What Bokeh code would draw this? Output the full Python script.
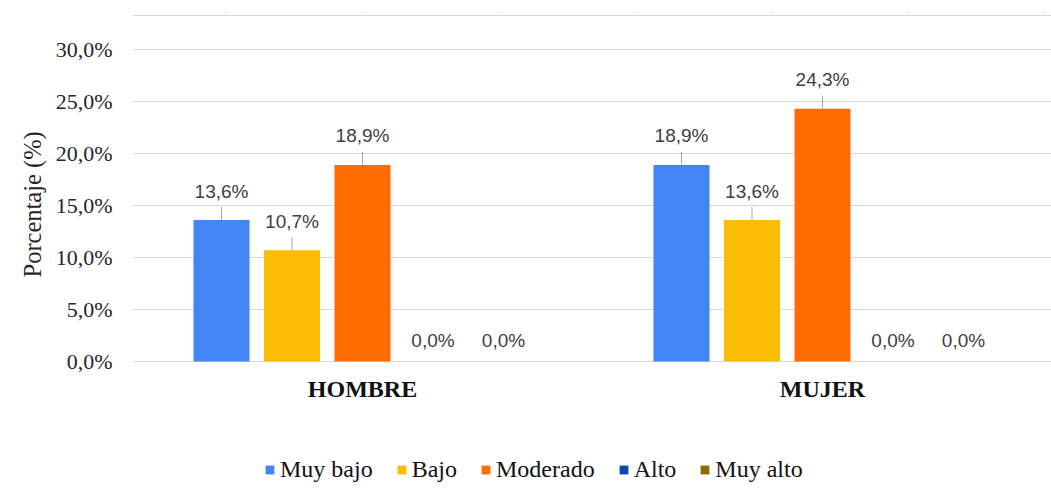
import numpy as np
from bokeh.plotting import figure
from bokeh.models import (ColumnDataSource, Range1d, FixedTicker, Legend,
                          LegendItem, Grid, Title)
from bokeh.core.properties import value
from bokeh.embed import file_html
from bokeh.resources import INLINE

# ---------------- data ----------------
categories = ["HOMBRE", "MUJER"]
series_names = ["Muy bajo", "Bajo", "Moderado", "Alto", "Muy alto"]
muy_bajo = [13.6, 18.9]
bajo = [10.7, 13.6]
moderado = [18.9, 24.3]
alto = [0.0, 0.0]
muy_alto = [0.0, 0.0]
series_values = [muy_bajo, bajo, moderado, alto, muy_alto]
colors = ["#4285F4", "#FBBC04", "#FF6D01", "#0E49AD", "#8F6A00"]
y_ticks = [0, 5, 10, 15, 20, 25, 30]
y_tick_labels = ["0,0%", "5,0%", "10,0%", "15,0%", "20,0%", "25,0%", "30,0%"]
y_title = "Porcentaje (%)"

# ---------------- styling ----------------
SERIF = "Liberation Serif"
SANS = "Liberation Sans"
W, H = 1051, 495
LEFT, TOP = 132, 10
UNIT_PX = 460.0                 # pixels per category
PX_PER_PCT = 10.4               # pixels per percentage point
ZERO_Y = 361                    # pixel row of 0 %
RULE_Y_PX = 15                  # pixel row of the thin top rule
FRAME_W = W - LEFT
BAR_W = 56.0 / UNIT_PX
STEP = 70.5 / UNIT_PX
GRID_COLOR = "#d9d9d9"

y_end = (ZERO_Y - TOP) / PX_PER_PCT
y_start = -(H - ZERO_Y) / PX_PER_PCT
rule_y = (ZERO_Y - RULE_Y_PX) / PX_PER_PCT
x_start = -0.5

p = figure(width=W, height=H,
           x_range=Range1d(x_start, x_start + FRAME_W / UNIT_PX),
           y_range=Range1d(y_start, y_end),
           x_axis_location=None,
           toolbar_location=None, output_backend="svg",
           min_border_left=LEFT, min_border_right=0, min_border_top=TOP,
           min_border_bottom=0, outline_line_color=None)
p.background_fill_color = "white"
p.border_fill_color = "white"

# grid
p.xgrid.visible = False
p.ygrid.ticker = FixedTicker(ticks=y_ticks)
p.ygrid.grid_line_color = GRID_COLOR

# thin rule near the top, with faint ticks
p.add_layout(Grid(dimension=1, ticker=FixedTicker(ticks=[rule_y]),
                  grid_line_color=GRID_COLOR))
if "cross_bounds" in Grid.properties():
    rule_tick_x = [(89 + 136.3 * k - (LEFT + UNIT_PX / 2)) / UNIT_PX for k in range(1, 8)]
    p.add_layout(Grid(dimension=0, ticker=FixedTicker(ticks=rule_tick_x),
                      cross_bounds=(rule_y, rule_y + 4 / PX_PER_PCT),
                      grid_line_color="#e2e2e2"))

# y axis
ya = p.yaxis[0]
ya.ticker = FixedTicker(ticks=y_ticks)
ya.major_label_overrides = dict(zip(y_ticks, y_tick_labels))
ya.axis_line_color = None
ya.major_tick_line_color = None
ya.minor_tick_line_color = None
ya.major_tick_out = 0
ya.major_label_standoff = 20
ya.major_label_text_font = SERIF
ya.major_label_text_font_size = "22px"
ya.major_label_text_color = "#262626"

p.add_layout(Title(text=y_title, align="left", offset=H - 277,
                   vertical_align="middle", standoff=12,
                   text_font=SERIF, text_font_style="normal",
                   text_font_size="24.5px", text_color="#262626"), "left")

# category labels under each group
cat_idx = list(range(len(categories)))
cat_src = ColumnDataSource(dict(x=cat_idx, y=[0] * len(cat_idx), name=categories))
p.text(x="x", y="y", text="name", source=cat_src, y_offset=27,
       text_align="center", text_baseline="middle", text_font=value(SERIF),
       text_font_style="bold", text_font_size="24px", text_color="#111111")

# bars, leader lines and value labels
items = []
n = len(series_names)
for i, (name, vals, col) in enumerate(zip(series_names, series_values, colors)):
    xs = np.array(cat_idx, dtype=float) + (i - (n - 1) / 2) * STEP
    vals = np.array(vals, dtype=float)
    labels = [("%.1f%%" % v).replace(".", ",") for v in vals]
    src = ColumnDataSource(dict(x=xs, top=vals, label=labels,
                                yoff=np.where(vals > 0, -29, -21)))
    r = p.vbar(x="x", top="top", width=BAR_W, source=src, fill_color=col,
               line_color=None)
    items.append(LegendItem(label=name, renderers=[r]))
    nz = vals > 0
    if nz.any():
        p.ray(x=xs[nz], y=vals[nz], length=13, length_units="screen",
              angle=np.pi / 2, line_color="#a6a6a6", line_width=1)
    p.text(x="x", y="top", text="label", source=src, y_offset="yoff",
           text_align="center", text_baseline="middle",
           text_font=value(SANS), text_font_size="19px", text_color="#404040")

legend = Legend(items=items, location=(132, 12), orientation="horizontal",
                glyph_width=11, glyph_height=11, label_standoff=5, spacing=23,
                padding=0, margin=0, border_line_color=None,
                background_fill_alpha=0, label_text_font=SERIF,
                label_text_font_style="normal",
                label_text_font_size="24px", label_text_color="#111111")
p.add_layout(legend)

open("out.html", "w").write(file_html(p, INLINE))
